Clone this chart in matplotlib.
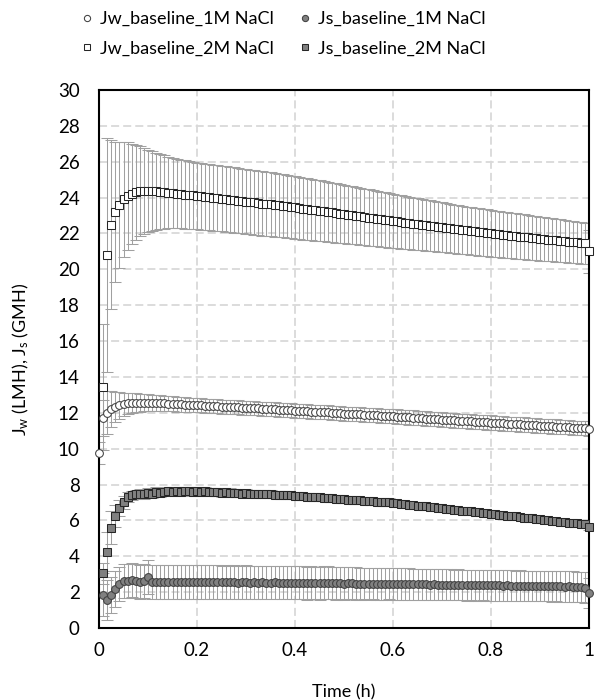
import numpy as np
import matplotlib
matplotlib.use("Agg")
import matplotlib.pyplot as plt
from matplotlib.lines import Line2D
from matplotlib.ticker import MultipleLocator

plt.rcParams['font.family'] = ['Lato', 'DejaVu Sans']
plt.rcParams['mathtext.fontset'] = 'custom'
plt.rcParams['mathtext.rm'] = 'Lato'
plt.rcParams['mathtext.it'] = 'Lato'
plt.rcParams['lines.scale_dashes'] = False

# sampling grid: one reading every 30 s over 1 h
time_h = np.arange(121) / 120

nan = np.nan

jw_1m = np.array([
    9.76, 11.7, 12.0, 12.2, 12.32, 12.42, 12.48, 12.52, 12.55, 12.56, 12.57, 12.57,
    12.56, 12.55, 12.54, 12.53, 12.52, 12.51, 12.50, 12.48, 12.47, 12.46, 12.45, 12.44, 12.42,
    12.41, 12.40, 12.39, 12.37, 12.36, 12.35, 12.34, 12.32, 12.31, 12.30, 12.29, 12.27,
    12.26, 12.25, 12.24, 12.22, 12.21, 12.20, 12.19, 12.17, 12.16, 12.15, 12.14, 12.12,
    12.11, 12.10, 12.08, 12.07, 12.06, 12.04, 12.03, 12.02, 12.00, 11.99, 11.98, 11.96,
    11.95, 11.94, 11.92, 11.91, 11.90, 11.88, 11.87, 11.86, 11.84, 11.83, 11.82, 11.80,
    11.79, 11.77, 11.76, 11.74, 11.73, 11.71, 11.70, 11.68, 11.67, 11.65, 11.64, 11.62,
    11.61, 11.59, 11.58, 11.56, 11.55, 11.53, 11.52, 11.50, 11.49, 11.47, 11.46, 11.45,
    11.43, 11.42, 11.41, 11.39, 11.38, 11.36, 11.35, 11.34, 11.32, 11.31, 11.30, 11.28,
    11.27, 11.25, 11.24, 11.23, 11.21, 11.20, 11.19, 11.17, 11.16, 11.15, 11.14, 11.12])

jw_1m_err = np.array([
    0.6, 1.0, 1.2, 1.0, 0.85, 0.75, 0.65, 0.6, 0.55, 0.52, 0.5, 0.48,
    0.47, 0.46, 0.45, 0.44, 0.43, 0.42, 0.42, 0.41, 0.41, 0.40, 0.40, 0.40, 0.39,
    0.39, 0.39, 0.39, 0.39, 0.39, 0.39, 0.39, 0.39, 0.39, 0.39, 0.39, 0.39,
    0.39, 0.39, 0.39, 0.39, 0.39, 0.39, 0.39, 0.39, 0.39, 0.39, 0.39, 0.39,
    0.39, 0.39, 0.39, 0.39, 0.39, 0.39, 0.39, 0.39, 0.39, 0.39, 0.39, 0.39,
    0.39, 0.39, 0.39, 0.39, 0.39, 0.39, 0.39, 0.39, 0.39, 0.39, 0.39, 0.39,
    0.40, 0.40, 0.40, 0.40, 0.40, 0.40, 0.40, 0.40, 0.40, 0.40, 0.40, 0.40,
    0.40, 0.40, 0.40, 0.40, 0.40, 0.40, 0.40, 0.40, 0.40, 0.40, 0.40, 0.40,
    0.40, 0.40, 0.40, 0.40, 0.40, 0.40, 0.40, 0.40, 0.40, 0.40, 0.40, 0.40,
    0.40, 0.40, 0.40, 0.40, 0.40, 0.40, 0.40, 0.40, 0.40, 0.40, 0.40, 0.40])

jw_2m = np.array([
    nan, 13.45, 20.8, 22.5, 23.2, 23.6, 23.9, 24.1, 24.2, 24.3, 24.35, 24.38,
    24.38, 24.37, 24.35, 24.33, 24.30, 24.28, 24.25, 24.22, 24.20, 24.17, 24.15, 24.12, 24.10,
    24.07, 24.05, 24.02, 23.99, 23.97, 23.94, 23.91, 23.89, 23.86, 23.83, 23.81, 23.78,
    23.75, 23.73, 23.70, 23.67, 23.65, 23.62, 23.59, 23.56, 23.54, 23.51, 23.48, 23.45,
    23.42, 23.39, 23.36, 23.33, 23.30, 23.27, 23.24, 23.20, 23.17, 23.14, 23.11, 23.08,
    23.05, 23.02, 22.99, 22.95, 22.92, 22.89, 22.86, 22.83, 22.80, 22.77, 22.73, 22.70,
    22.67, 22.64, 22.61, 22.58, 22.55, 22.52, 22.49, 22.47, 22.44, 22.41, 22.38, 22.35,
    22.32, 22.29, 22.26, 22.23, 22.20, 22.17, 22.14, 22.12, 22.09, 22.06, 22.03, 22.00,
    21.98, 21.95, 21.93, 21.90, 21.88, 21.86, 21.83, 21.81, 21.78, 21.76, 21.74, 21.71,
    21.69, 21.66, 21.64, 21.62, 21.59, 21.57, 21.54, 21.52, 21.50, 21.47, 21.45, 21.00])

jw_2m_err = np.array([
    0.0, 3.5, 6.5, 4.7, 3.9, 3.5, 3.2, 3.0, 2.8, 2.65, 2.5, 2.4,
    2.3, 2.22, 2.15, 2.10, 2.05, 2.00, 1.97, 1.94, 1.92, 1.90, 1.88, 1.86, 1.85,
    1.85, 1.85, 1.84, 1.84, 1.84, 1.83, 1.83, 1.83, 1.82, 1.82, 1.81, 1.81,
    1.80, 1.80, 1.79, 1.79, 1.78, 1.78, 1.77, 1.77, 1.76, 1.76, 1.75, 1.75,
    1.74, 1.73, 1.72, 1.71, 1.70, 1.69, 1.68, 1.67, 1.66, 1.65, 1.64, 1.63,
    1.62, 1.61, 1.60, 1.59, 1.58, 1.57, 1.56, 1.55, 1.54, 1.53, 1.52, 1.50,
    1.49, 1.48, 1.47, 1.46, 1.45, 1.44, 1.43, 1.42, 1.41, 1.40, 1.39, 1.38,
    1.37, 1.36, 1.35, 1.35, 1.34, 1.33, 1.33, 1.32, 1.32, 1.31, 1.31, 1.30,
    1.29, 1.29, 1.28, 1.28, 1.27, 1.26, 1.26, 1.25, 1.24, 1.24, 1.23, 1.22,
    1.22, 1.21, 1.20, 1.20, 1.19, 1.18, 1.18, 1.17, 1.16, 1.16, 1.15, 1.20])

js_1m = np.array([
    nan, 1.86, 1.56, 1.86, 2.18, 2.46, 2.60, 2.62, 2.70, 2.60, 2.55, 2.62,
    2.83, 2.58, 2.55, 2.56, 2.57, 2.55, 2.56, 2.55, 2.56, 2.57, 2.55, 2.56, 2.55,
    2.56, 2.55, 2.54, 2.56, 2.55, 2.54, 2.55, 2.54, 2.55, 2.53, 2.54, 2.55,
    2.53, 2.54, 2.53, 2.54, 2.52, 2.53, 2.54, 2.52, 2.53, 2.52, 2.51, 2.52,
    2.51, 2.52, 2.50, 2.51, 2.50, 2.49, 2.52, 2.53, 2.50, 2.49, 2.50, 2.48,
    2.49, 2.50, 2.48, 2.47, 2.48, 2.47, 2.48, 2.46, 2.47, 2.46, 2.47, 2.45,
    2.46, 2.45, 2.44, 2.45, 2.44, 2.43, 2.44, 2.43, 2.42, 2.43, 2.42, 2.41,
    2.42, 2.41, 2.40, 2.41, 2.40, 2.39, 2.40, 2.39, 2.38, 2.39, 2.38, 2.37,
    2.38, 2.37, 2.36, 2.37, 2.36, 2.35, 2.36, 2.35, 2.34, 2.35, 2.34, 2.33,
    2.34, 2.33, 2.32, 2.33, 2.32, 2.31, 2.32, 2.31, 2.30, 2.28, 2.25, 1.95])

js_1m_err = np.array([
    0.0, 1.2, 1.1, 1.0, 1.0, 0.95, 0.95, 0.95, 0.95, 0.95, 0.95, 0.95,
    0.95, 0.95, 0.95, 0.95, 0.95, 0.95, 0.95, 0.95, 0.95, 0.95, 0.95, 0.95, 0.95,
    0.95, 0.95, 0.95, 0.94, 0.94, 0.94, 0.94, 0.94, 0.94, 0.94, 0.94, 0.94,
    0.93, 0.93, 0.93, 0.93, 0.93, 0.93, 0.93, 0.93, 0.93, 0.92, 0.92, 0.92,
    0.92, 0.92, 0.92, 0.92, 0.91, 0.91, 0.91, 0.91, 0.91, 0.91, 0.90, 0.90,
    0.90, 0.90, 0.90, 0.90, 0.89, 0.89, 0.89, 0.89, 0.89, 0.88, 0.88, 0.88,
    0.88, 0.88, 0.88, 0.87, 0.87, 0.87, 0.87, 0.87, 0.87, 0.87, 0.86, 0.86,
    0.86, 0.86, 0.86, 0.86, 0.86, 0.86, 0.86, 0.86, 0.85, 0.85, 0.85, 0.85,
    0.85, 0.85, 0.85, 0.85, 0.85, 0.85, 0.85, 0.85, 0.85, 0.85, 0.85, 0.85,
    0.85, 0.85, 0.85, 0.85, 0.85, 0.85, 0.85, 0.85, 0.85, 0.85, 0.85, 0.85])

js_2m = np.array([
    nan, 3.05, 4.26, 5.60, 6.24, 6.70, 7.00, 7.30, 7.40, 7.45, 7.50, 7.45,
    7.55, 7.50, 7.60, 7.55, 7.60, 7.62, 7.60, 7.65, 7.60, 7.62, 7.65, 7.60, 7.62,
    7.60, 7.62, 7.58, 7.60, 7.57, 7.55, 7.58, 7.55, 7.52, 7.55, 7.50, 7.52,
    7.50, 7.48, 7.50, 7.47, 7.45, 7.47, 7.44, 7.42, 7.44, 7.41, 7.40, 7.38,
    7.36, 7.35, 7.33, 7.31, 7.30, 7.28, 7.26, 7.24, 7.23, 7.21, 7.19, 7.17,
    7.16, 7.14, 7.12, 7.11, 7.09, 7.07, 7.06, 7.04, 7.02, 7.01, 7.05, 6.97,
    6.95, 6.92, 6.90, 6.87, 6.85, 6.82, 6.80, 6.78, 6.75, 6.73, 6.70, 6.68,
    6.65, 6.63, 6.60, 6.58, 6.55, 6.53, 6.50, 6.48, 6.45, 6.43, 6.40, 6.38,
    6.35, 6.32, 6.30, 6.27, 6.24, 6.22, 6.19, 6.16, 6.14, 6.11, 6.08, 6.06,
    6.03, 6.01, 5.98, 5.95, 5.93, 5.90, 5.88, 5.85, 5.83, 5.80, 5.78, 5.63])

js_2m_err = np.array([
    0.0, 0.6, 1.1, 0.9, 0.6, 0.45, 0.35, 0.30, 0.25, 0.25, 0.25, 0.25,
    0.25, 0.25, 0.25, 0.25, 0.25, 0.24, 0.24, 0.24, 0.24, 0.24, 0.24, 0.24, 0.24,
    0.23, 0.23, 0.23, 0.23, 0.23, 0.23, 0.23, 0.23, 0.22, 0.22, 0.22, 0.22,
    0.22, 0.22, 0.22, 0.22, 0.21, 0.21, 0.21, 0.21, 0.21, 0.21, 0.21, 0.21,
    0.20, 0.20, 0.20, 0.20, 0.20, 0.20, 0.20, 0.20, 0.20, 0.20, 0.20, 0.20,
    0.19, 0.19, 0.19, 0.19, 0.19, 0.19, 0.19, 0.19, 0.19, 0.19, 0.19, 0.19,
    0.18, 0.18, 0.18, 0.18, 0.18, 0.18, 0.18, 0.18, 0.18, 0.18, 0.18, 0.18,
    0.17, 0.17, 0.17, 0.17, 0.17, 0.17, 0.17, 0.17, 0.17, 0.17, 0.17, 0.17,
    0.16, 0.16, 0.16, 0.16, 0.16, 0.16, 0.16, 0.16, 0.16, 0.16, 0.16, 0.16,
    0.15, 0.15, 0.15, 0.15, 0.15, 0.15, 0.15, 0.15, 0.15, 0.15, 0.15, 0.15])

labels = ["Jw_baseline_1M NaCl", "Jw_baseline_2M NaCl",
          "Js_baseline_1M NaCl", "Js_baseline_2M NaCl"]

fig = plt.figure(figsize=(5.95, 7.0), dpi=100)
ax = fig.add_axes([99 / 595, 1 - 628 / 700, 490 / 595, 538 / 700])

ERR_C = '#a0a0a0'
err_kw = dict(fmt='none', ecolor=ERR_C, elinewidth=0.75, capsize=4.2, capthick=0.75, zorder=2)
for y, e in [(jw_1m, jw_1m_err), (js_1m, js_1m_err), (jw_2m, jw_2m_err), (js_2m, js_2m_err)]:
    ax.errorbar(time_h, y, yerr=e, **err_kw)

styles = [
    dict(marker='o', ms=5.6, mfc='white', mec='#404040', mew=0.75),
    dict(marker='s', ms=5.9, mfc='white', mec='#262626', mew=0.75),
    dict(marker='o', ms=5.6, mfc='#808080', mec='#404040', mew=0.75),
    dict(marker='s', ms=5.9, mfc='#808080', mec='#262626', mew=0.75),
]
series = [jw_1m, jw_2m, js_1m, js_2m]
for y, st in zip(series, styles):
    ax.plot(time_h, y, linestyle='none', zorder=3, clip_on=False, **st)

ax.set_xlim(0, 1)
ax.set_ylim(0, 30)
ax.xaxis.set_major_locator(MultipleLocator(0.2))
ax.yaxis.set_major_locator(MultipleLocator(2))
ax.xaxis.set_major_formatter(matplotlib.ticker.FuncFormatter(lambda v, p: f"{v:g}"))
ax.grid(True, color='#d9d9d9', linewidth=1.3, linestyle=(0, (5.8, 2.9)), zorder=0)
ax.set_axisbelow(True)
for s in ax.spines.values():
    s.set_linewidth(1.5)
    s.set_color('black')
ax.tick_params(axis='both', length=0, labelsize=13.5, colors='black')
ax.tick_params(axis='y', pad=14)
ax.tick_params(axis='x', pad=10)

ax.set_xlabel("Time (h)", fontsize=13, labelpad=18)
ax.set_ylabel(r"J$_\mathregular{w}$ (LMH), J$_\mathregular{s}$ (GMH)", fontsize=13, labelpad=19)

handles = [Line2D([], [], linestyle='none', **st) for st in styles]
fig.legend(handles, labels, ncol=2, loc='upper left', bbox_to_anchor=(0.118, 1.0),
           frameon=False, fontsize=13, handlelength=0.7, handletextpad=0.35,
           columnspacing=1.4, labelspacing=0.75, markerscale=0.8, borderaxespad=0.2)

fig.savefig("out.png", dpi=100)
